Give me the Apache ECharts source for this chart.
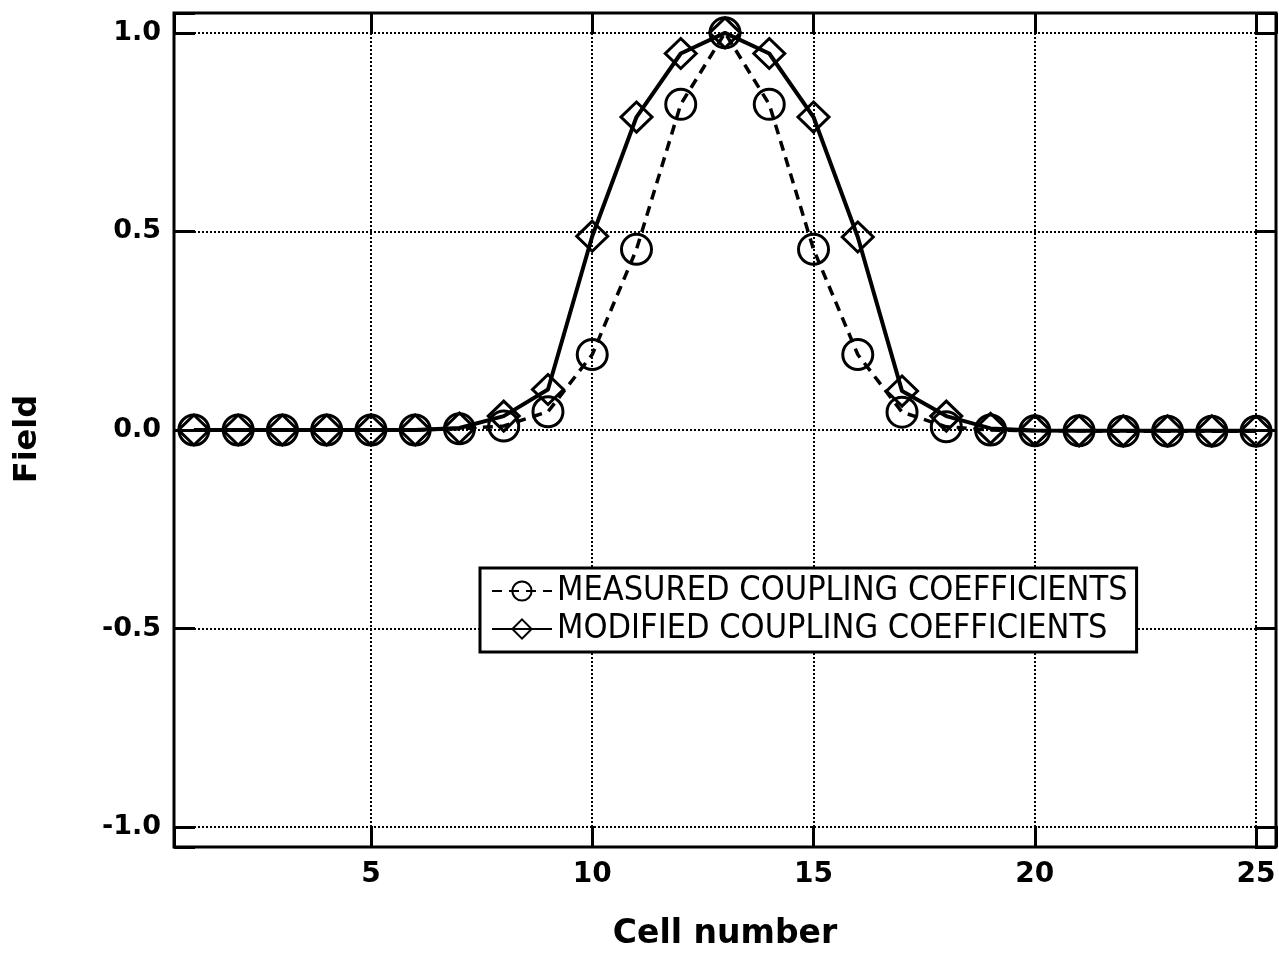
<!DOCTYPE html>
<html>
<head>
<meta charset="utf-8">
<title>Field vs cell number</title>
<script src="https://cdn.jsdelivr.net/npm/echarts@6.0.0/dist/echarts.min.js"></script>
<style>
    html, body { margin: 0; padding: 0; background: #fff; }
    #main { width: 1279px; height: 955px; }
</style>
</head>
<body>
<div id="main"></div>
<script>
// cell index 1..25
var cells = [1, 2, 3, 4, 5, 6, 7, 8, 9, 10, 11, 12, 13, 14, 15, 16, 17, 18, 19, 20, 21, 22, 23, 24, 25]
var measured = [0, 0, 0, 0, 0, 0, 0.003, 0.01, 0.046, 0.19, 0.455, 0.82, 1.0, 0.82, 0.455, 0.19, 0.045, 0.008, 0.0, -0.002, -0.002, -0.003, -0.003, -0.003, -0.003]
var modified = [0, 0, 0, 0, 0, 0, 0.005, 0.035, 0.102, 0.488, 0.788, 0.948, 1.0, 0.948, 0.788, 0.486, 0.098, 0.035, 0.004, -0.001, -0.002, -0.002, -0.002, -0.002, -0.002]
var names = ['MEASURED COUPLING COEFFICIENTS', 'MODIFIED COUPLING COEFFICIENTS']

var myChart = echarts.init(document.getElementById('main'))

function pairs(ys) {
    return cells.map(function (c, i) { return [c, ys[i]] })
}

let bold = 'DejaVu Sans, Liberation Sans, sans-serif'
let narrow = 'Liberation Sans Narrow, DejaVu Sans Condensed, Arial Narrow, sans-serif'

let tick = { show: true, inside: true, length: 21, lineStyle: { color: '#000', width: 3 } }
let dots = { show: true, lineStyle: { color: '#000', width: 2, type: [2, 2] } }

myChart.setOption({
    animation: false,
    backgroundColor: '#fff',
    grid: {
        left: 174,
        right: 3,
        top: 13,
        bottom: 108,
        outerBoundsMode: 'none',
        containLabel: false,
        show: true,
        borderColor: '#000',
        borderWidth: 3,
        backgroundColor: 'transparent'
    },
    legend: {
        orient: 'vertical',
        left: 480,
        top: 568,
        padding: [5, 9, 5, 11],
        itemGap: 2,
        itemWidth: 60,
        itemHeight: 24,
        backgroundColor: '#fff',
        borderColor: '#000',
        borderWidth: 3,
        borderRadius: 0,
        textStyle: { color: '#000', fontFamily: narrow, fontSize: 34, lineHeight: 36 },
        data: names
    },
    xAxis: [{
        type: 'value',
        min: 0.55,
        max: 25.45,
        splitNumber: 5,
        name: 'Cell number',
        nameLocation: 'middle',
        nameGap: 71,
        nameTextStyle: { color: '#000', fontFamily: bold, fontWeight: 'bold', fontSize: 33 },
        axisLine: { show: false, onZero: false },
        axisTick: tick,
        splitLine: dots,
        axisLabel: {
            color: '#000', fontFamily: bold, fontWeight: 'bold', fontSize: 28, margin: 14,
            formatter: function (v) { return Math.abs(v % 5) < 1e-9 ? String(v) : '' }
        }
    }, {
        type: 'value',
        position: 'top',
        min: 0.55,
        max: 25.45,
        splitNumber: 5,
        axisLine: { show: false, onZero: false },
        axisTick: tick,
        splitLine: { show: false },
        axisLabel: { show: false }
    }],
    yAxis: [{
        type: 'value',
        min: -1.05,
        max: 1.05,
        splitNumber: 4,
        name: 'Field',
        nameLocation: 'middle',
        nameGap: 130,
        nameTextStyle: { color: '#000', fontFamily: bold, fontWeight: 'bold', fontSize: 32, padding: [0, 18, 0, 0] },
        axisLine: { show: false, onZero: false },
        axisTick: tick,
        splitLine: dots,
        axisLabel: {
            color: '#000', fontFamily: bold, fontWeight: 'bold', fontSize: 27, margin: 13,
            formatter: function (v) {
                return Math.abs(v * 2 - Math.round(v * 2)) < 1e-9 ? v.toFixed(1) : ''
            }
        }
    }, {
        type: 'value',
        position: 'right',
        min: -1.05,
        max: 1.05,
        splitNumber: 4,
        axisLine: { show: false, onZero: false },
        axisTick: tick,
        splitLine: { show: false },
        axisLabel: { show: false }
    }],
    series: [{
        name: names[0],
        type: 'line',
        data: pairs(measured),
        symbol: 'circle',
        symbolSize: 30,
        lineStyle: { color: '#000', width: 3.5, type: [10, 7] },
        itemStyle: { color: 'rgba(0,0,0,0)', borderColor: '#000', borderWidth: 3 },
        z: 3
    }, {
        name: names[1],
        type: 'line',
        data: pairs(modified),
        symbol: 'diamond',
        symbolSize: [31, 30],
        lineStyle: { color: '#000', width: 4, type: 'solid' },
        itemStyle: { color: 'rgba(0,0,0,0)', borderColor: '#000', borderWidth: 3 },
        z: 4
    }]
})
</script>
</body>
</html>
